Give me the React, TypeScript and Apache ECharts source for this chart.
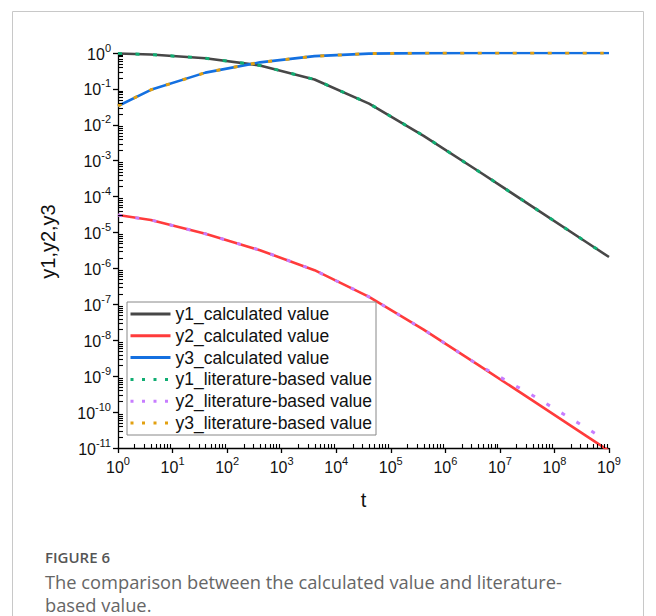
import React, { useEffect, useRef } from "react";
import * as echarts from "echarts";

// Robertson kinetics: species fractions over time t (log-log)
const tCalc = [1, 4, 40, 400, 4e3, 4e4, 4e5, 4e6, 4e7, 4e8, 1e9];
const y1Calc = [0.9665, 0.9055, 0.7158, 0.4505, 0.1832, 0.039, 4.94e-3, 5.17e-4, 5.2e-5, 5.2e-6, 2.08e-6];
const y2Calc = [3.07e-5, 2.24e-5, 9.19e-6, 3.22e-6, 8.94e-7, 1.62e-7, 1.98e-8, 2.07e-9, 2.08e-10, 2.08e-11, 8.3e-12];
const y3Calc = [0.0335, 0.0945, 0.2842, 0.5495, 0.8168, 0.961, 0.9951, 0.9995, 0.99995, 0.999995, 0.999998];

const tLit = [1, 4, 40, 400, 4e3, 4e4, 4e5, 4e6, 4e7, 4e8, 8e8];
const y1Lit = [0.9665, 0.9055, 0.7158, 0.4505, 0.1832, 0.039, 4.94e-3, 5.17e-4, 5.2e-5, 5.2e-6, 2.6e-6];
const y2Lit = [3.07e-5, 2.24e-5, 9.19e-6, 3.22e-6, 8.94e-7, 1.62e-7, 1.98e-8, 2.07e-9, 2.9e-10, 3.5e-11, 1.8e-11];
const y3Lit = [0.0335, 0.0945, 0.2842, 0.5495, 0.8168, 0.961, 0.9951, 0.9995, 0.99995, 0.999995, 0.999997];

const seriesNames = [
  "y1_calculated value",
  "y2_calculated value",
  "y3_calculated value",
  "y1_literature-based value",
  "y2_literature-based value",
  "y3_literature-based value",
];
const seriesColors = ["#474747", "#ff3b3b", "#1470e0", "#10ad72", "#c77dff", "#e2a010"];

// axis ranges (decade exponents) and minor-tick multipliers per decade
const xExp = [0, 9];
const yExp = [-11, 0];
const minorSteps = [2, 3, 4, 5, 6, 7, 8, 9];

const AXIS_FONT = "Liberation Sans";
const CAPTION_FONT = "Open Sans";

function pair(t: number[], y: number[]) {
  return t.map((v, i) => [v, y[i]]);
}

function minorValues(e0: number, e1: number) {
  const out: number[] = [];
  for (let e = e0; e < e1; e++) {
    minorSteps.forEach((m) => out.push(Number((m * Math.pow(10, e)).toPrecision(3))));
  }
  return out;
}

function powLabel(value: number) {
  const e = Math.round(Math.log10(value));
  return `{b|10}{s|${e}}`;
}

const richPow = {
  b: { fontFamily: AXIS_FONT, fontSize: 16, color: "#111", verticalAlign: "bottom" as const, lineHeight: 18 },
  s: {
    fontFamily: AXIS_FONT,
    fontSize: 11,
    color: "#111",
    verticalAlign: "bottom" as const,
    lineHeight: 11,
    padding: [0, 0, 9, 0],
  },
};

export default function App() {
  const ref = useRef<HTMLDivElement>(null);

  useEffect(() => {
    document.body.style.margin = "0";
    const chart = echarts.init(ref.current!, undefined, { renderer: "svg" });

    const xMin = Math.pow(10, xExp[0]);
    const xMax = Math.pow(10, xExp[1]);
    const yMin = Math.pow(10, yExp[0]);
    const yMax = Math.pow(10, yExp[1]);

    const calcData = [pair(tCalc, y1Calc), pair(tCalc, y2Calc), pair(tCalc, y3Calc)];
    const litData = [pair(tLit, y1Lit), pair(tLit, y2Lit), pair(tLit, y3Lit)];

    const lineSeries: any[] = [];
    calcData.forEach((d, i) => {
      lineSeries.push({
        name: seriesNames[i],
        type: "line",
        data: d,
        symbol: "none",
        showSymbol: false,
        color: seriesColors[i],
        lineStyle: { color: seriesColors[i], width: 2.6 },
        z: 2,
      });
    });
    litData.forEach((d, i) => {
      lineSeries.push({
        name: seriesNames[i + 3],
        type: "line",
        data: d,
        symbol: "none",
        showSymbol: false,
        color: seriesColors[i + 3],
        lineStyle: { color: seriesColors[i + 3], width: 3, type: [4, 13.5], cap: "butt" },
        z: 3,
      });
    });

    const xMinor = minorValues(xExp[0], xExp[1]);
    const yMinor = minorValues(yExp[0], yExp[1]);

    // minor ticks, drawn inward: up from the t axis, right from the y axis
    const tickSeries = {
      type: "custom",
      silent: true,
      data: [[xMin, yMin]],
      z: 5,
      renderItem: (_p: any, api: any) => {
        const children: any[] = [];
        xMinor.forEach((v) => {
          const p = api.coord([v, yMin]);
          const px = Math.round(p[0]) + 0.5;
          children.push({
            type: "line",
            shape: { x1: px, y1: p[1], x2: px, y2: p[1] - 4 },
            style: { stroke: "#000", lineWidth: 1.1 },
          });
        });
        yMinor.forEach((v) => {
          const p = api.coord([xMin, v]);
          const py = Math.round(p[1]) + 0.5;
          children.push({
            type: "line",
            shape: { x1: p[0], y1: py, x2: p[0] + 5, y2: py },
            style: { stroke: "#000", lineWidth: 1.1 },
          });
        });
        return { type: "group", children };
      },
    };

    chart.setOption({
      animation: false,
      backgroundColor: "#fff",
      grid: { left: 118, top: 53, right: 47, bottom: 168 },
      xAxis: {
        type: "log",
        logBase: 10,
        min: xMin,
        max: xMax,
        interval: 1,
        name: "t",
        nameLocation: "middle",
        nameGap: 42,
        nameTextStyle: { fontFamily: AXIS_FONT, fontSize: 20, color: "#111" },
        axisLine: { lineStyle: { color: "#000", width: 1.3 } },
        axisTick: { inside: false, length: 5, lineStyle: { color: "#000", width: 1.3 } },
        splitLine: { show: false },
        axisLabel: { margin: 9, formatter: powLabel, rich: richPow },
      },
      yAxis: {
        type: "log",
        logBase: 10,
        min: yMin,
        max: yMax,
        interval: 1,
        name: "y1,y2,y3",
        nameLocation: "middle",
        nameGap: 60,
        nameTextStyle: { fontFamily: AXIS_FONT, fontSize: 20, color: "#111", padding: [0, 0, 0, 18] },
        axisLine: { lineStyle: { color: "#000", width: 1.3 } },
        axisTick: { inside: false, length: 5, lineStyle: { color: "#000", width: 1.3 } },
        splitLine: { show: false },
        axisLabel: { margin: 7, formatter: powLabel, rich: richPow },
      },
      legend: {
        orient: "vertical",
        left: 127,
        top: 302,
        selectedMode: false,
        backgroundColor: "#fff",
        borderColor: "#888",
        borderWidth: 1,
        padding: [3, 4, 3, 2],
        itemWidth: 40,
        itemHeight: 18,
        itemGap: 3.8,
        itemStyle: { opacity: 0 },
        textStyle: { fontFamily: AXIS_FONT, fontSize: 17.5, color: "#111", lineHeight: 18 },
        data: seriesNames.map((n, i) =>
          i < 3
            ? { name: n, lineStyle: { width: 3 } }
            : { name: n, lineStyle: { width: 3, type: [3, 8.5] } }
        ),
      },
      graphic: [
        {
          type: "rect",
          z: -10,
          silent: true,
          shape: { x: 12.5, y: 11.5, width: 631, height: 700 },
          style: { fill: "none", stroke: "#c8c8c8", lineWidth: 1 },
        },
        {
          type: "text",
          x: 45,
          y: 557,
          style: {
            text: "FIGURE 6",
            font: `600 15px '${CAPTION_FONT}'`,
            fill: "#555",
            verticalAlign: "middle",
          },
        },
        {
          type: "text",
          x: 45,
          y: 581,
          style: {
            text: "The comparison between the calculated value and literature-",
            font: `400 18.3px '${CAPTION_FONT}'`,
            fill: "#666",
            verticalAlign: "middle",
          },
        },
        {
          type: "text",
          x: 45,
          y: 604,
          style: {
            text: "based value.",
            font: `400 18.3px '${CAPTION_FONT}'`,
            fill: "#666",
            verticalAlign: "middle",
            lineHeight: 20,
          },
        },
      ],
      series: [...lineSeries, tickSeries],
    });

    return () => chart.dispose();
  }, []);

  return <div ref={ref} style={{ width: 656, height: 616 }} />;
}
